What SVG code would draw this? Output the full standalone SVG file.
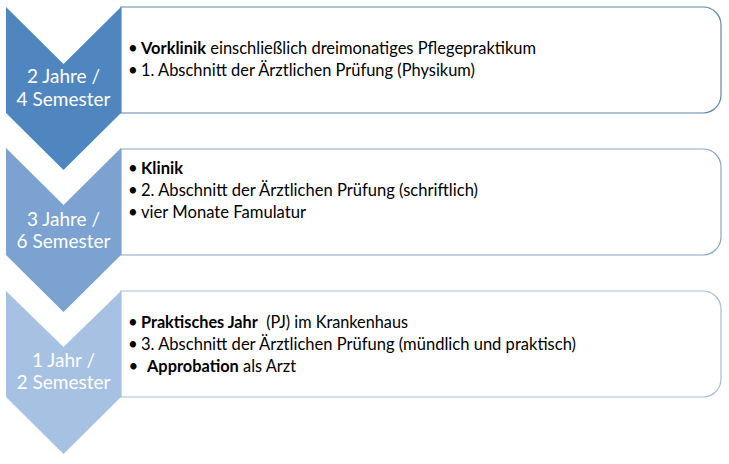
<svg xmlns="http://www.w3.org/2000/svg" width="729" height="464" viewBox="0 0 729 464">
<style>
.chev text{font-family:Lato,"Open Sans",sans-serif;font-size:19px;fill:#ffffff;text-anchor:middle}
.box text{font-family:Lato,"Open Sans",sans-serif;font-size:16.8px;fill:#000000}
.box path{fill:#ffffff;stroke-width:1.2}
.b{font-weight:bold}
</style>
<rect width="729" height="464" fill="#ffffff"/>
<g id="box1" class="box">
<path d="M121,7 H703 A18,18 0 0 1 721,25 V95 A18,18 0 0 1 703,113 H121 Z" stroke="#5f86a9"/>
<text x="128" y="54">•</text><text x="141" y="54" textLength="395" lengthAdjust="spacingAndGlyphs"><tspan class="b">Vorklinik</tspan> einschließlich dreimonatiges Pflegepraktikum</text>
<text x="128" y="76">•</text><text x="141" y="76" textLength="334" lengthAdjust="spacingAndGlyphs">1. Abschnitt der Ärztlichen Prüfung (Physikum)</text>
</g>
<g id="box2" class="box">
<path d="M121,149 H703 A18,18 0 0 1 721,167 V237 A18,18 0 0 1 703,255 H121 Z" stroke="#86a5c4"/>
<text x="128" y="174">•</text><text x="141" y="174" textLength="42" lengthAdjust="spacingAndGlyphs" class="b">Klinik</text>
<text x="128" y="196">•</text><text x="141" y="196" textLength="337" lengthAdjust="spacingAndGlyphs">2. Abschnitt der Ärztlichen Prüfung (schriftlich)</text>
<text x="128" y="218">•</text><text x="141" y="218" textLength="165" lengthAdjust="spacingAndGlyphs">vier Monate Famulatur</text>
</g>
<g id="box3" class="box">
<path d="M121,291 H703 A18,18 0 0 1 721,309 V379 A18,18 0 0 1 703,397 H121 Z" stroke="#a6bdd5"/>
<text x="128" y="328">•</text><text x="141" y="328" textLength="267" lengthAdjust="spacingAndGlyphs" style="white-space:pre"><tspan class="b">Praktisches Jahr</tspan>  (PJ) im Krankenhaus</text>
<text x="128" y="350">•</text><text x="141" y="350" textLength="435" lengthAdjust="spacingAndGlyphs">3. Abschnitt der Ärztlichen Prüfung (mündlich und praktisch)</text>
<text x="128.5" y="372">•</text><text x="147" y="372" textLength="149" lengthAdjust="spacingAndGlyphs"><tspan class="b">Approbation</tspan> als Arzt</text>
</g>
<g id="chevron1" class="chev">
<polygon points="6,7 63.5,64 121,7 121,113 63.5,170 6,113" fill="#4f86c0"/>
<text x="63.5" y="83">2 Jahre /</text>
<text x="63.5" y="106">4 Semester</text>
</g>
<g id="chevron2" class="chev">
<polygon points="6,148 63.5,205 121,148 121,255 63.5,312 6,255" fill="#7ca2d1"/>
<text x="63.5" y="226">3 Jahre /</text>
<text x="63.5" y="248">6 Semester</text>
</g>
<g id="chevron3" class="chev">
<polygon points="6,291 63.5,347 121,291 121,397 63.5,454 6,397" fill="#a7c1e3"/>
<text x="63.5" y="367">1 Jahr /</text>
<text x="63.5" y="389">2 Semester</text>
</g>
<g id="connectors"></g>
</svg>
